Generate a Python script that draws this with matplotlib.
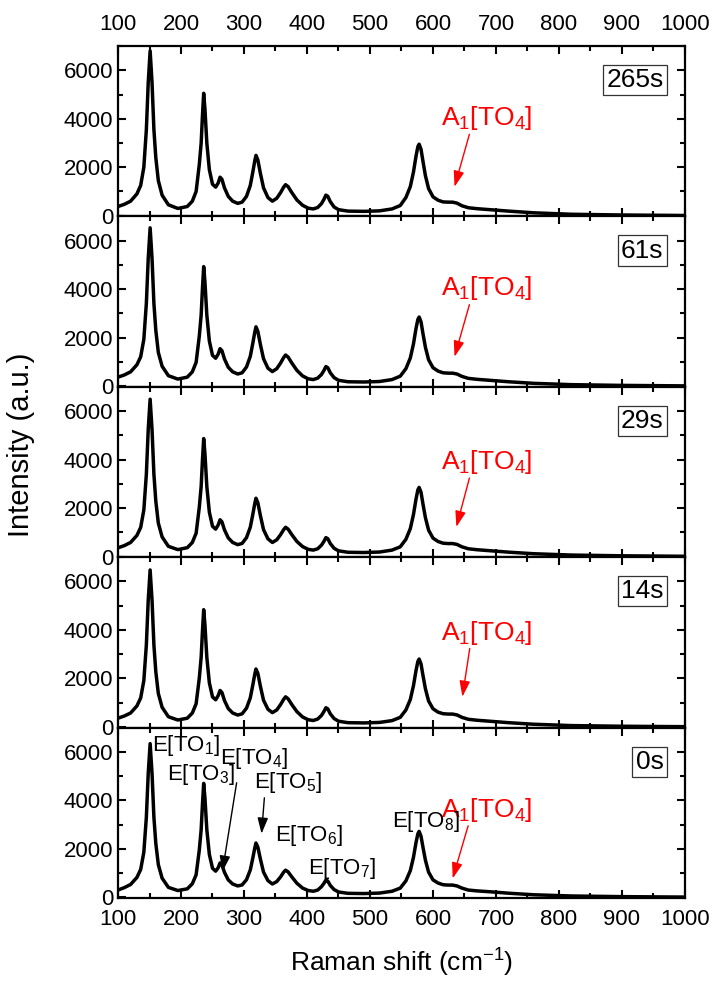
import numpy as np
import matplotlib
matplotlib.use('Agg')
import matplotlib.pyplot as plt
from matplotlib.ticker import MultipleLocator

plt.rcParams['font.family'] = ['Liberation Sans', 'DejaVu Sans']
plt.rcParams['mathtext.default'] = 'regular'

# Raman shift positions (cm-1) shared by all spectra
x_cm = [100, 110, 120, 130, 136, 141, 145, 148, 151, 154, 157, 160, 164, 170, 180, 195, 210, 218, 224, 229,
        232, 234, 236, 238, 241, 245, 250, 255, 259, 262, 265, 269, 275, 282, 290, 297, 304, 310, 314, 317,
        319, 322, 326, 331, 338, 345, 352, 358, 363, 366, 370, 376, 384, 393, 402, 410, 417, 423, 427, 430,
        433, 437, 443, 450, 465, 490, 515, 535, 548, 557, 564, 569, 573, 576, 578, 581, 584, 588, 593, 600,
        608, 616, 624, 631, 638, 646, 656, 670, 690, 720, 760, 820, 900, 1000]

# intensities
int_265s = [380, 470, 600, 900, 1250, 2000, 3550, 5500, 6800, 5500, 3550, 2400, 1450, 850, 450, 300, 380, 600, 1000, 2100,
            3000, 4100, 5050, 4400, 3000, 1900, 1300, 1180, 1350, 1590, 1500, 1150, 800, 600, 510, 560, 800, 1250, 1800, 2250,
            2490, 2300, 1750, 1150, 750, 600, 720, 950, 1180, 1280, 1200, 950, 650, 430, 310, 280, 340, 500, 680, 850,
            800, 580, 360, 250, 190, 180, 200, 280, 420, 750, 1200, 1800, 2450, 2850, 2950, 2740, 2260, 1650, 1120, 780,
            640, 570, 560, 560, 520, 410, 330, 290, 250, 190, 120, 60, 30, 10]
int_61s = [370, 460, 590, 880, 1210, 1930, 3410, 5280, 6530, 5280, 3410, 2310, 1390, 820, 430, 290, 370, 590, 980, 2050,
           2930, 4000, 4930, 4300, 2930, 1860, 1270, 1150, 1320, 1545, 1460, 1120, 780, 590, 500, 550, 790, 1230, 1770, 2210,
           2447, 2260, 1720, 1130, 740, 600, 720, 950, 1180, 1283, 1200, 950, 650, 420, 300, 270, 330, 480, 650, 807,
           760, 550, 350, 240, 180, 170, 190, 270, 410, 720, 1160, 1740, 2370, 2750, 2850, 2650, 2180, 1600, 1090, 760,
           620, 550, 535, 535, 500, 400, 320, 280, 240, 180, 115, 60, 30, 10]
int_29s = [360, 450, 580, 870, 1200, 1920, 3390, 5250, 6490, 5250, 3390, 2290, 1380, 810, 420, 285, 365, 580, 960, 2020,
           2890, 3950, 4865, 4240, 2890, 1830, 1250, 1130, 1300, 1516, 1430, 1100, 770, 580, 490, 540, 780, 1210, 1740, 2170,
           2405, 2220, 1690, 1110, 730, 580, 690, 900, 1110, 1205, 1130, 900, 620, 410, 295, 265, 320, 470, 630, 779,
           735, 535, 340, 235, 175, 165, 185, 265, 400, 710, 1150, 1730, 2360, 2750, 2850, 2650, 2180, 1600, 1090, 760,
           620, 550, 535, 535, 500, 400, 320, 280, 240, 180, 115, 60, 30, 10]
int_14s = [360, 450, 575, 865, 1195, 1910, 3380, 5240, 6475, 5240, 3380, 2280, 1380, 810, 420, 285, 360, 575, 955, 2000,
           2870, 3920, 4836, 4210, 2870, 1820, 1240, 1120, 1290, 1504, 1420, 1090, 760, 575, 490, 540, 775, 1200, 1730, 2160,
           2390, 2210, 1680, 1100, 730, 590, 700, 920, 1140, 1242, 1160, 920, 630, 410, 295, 265, 325, 475, 640, 791,
           745, 540, 345, 235, 175, 165, 185, 260, 395, 700, 1130, 1700, 2320, 2700, 2800, 2600, 2140, 1570, 1070, 750,
           610, 545, 530, 530, 495, 395, 315, 275, 235, 175, 110, 55, 28, 10]
int_0s = [300, 400, 530, 820, 1150, 1860, 3300, 5120, 6340, 5120, 3300, 2230, 1350, 790, 410, 280, 350, 560, 930, 1940,
          2790, 3810, 4700, 4100, 2790, 1770, 1200, 1080, 1220, 1420, 1340, 1030, 720, 550, 470, 510, 730, 1130, 1620, 2020,
          2240, 2070, 1580, 1040, 690, 550, 650, 840, 1040, 1120, 1050, 840, 580, 380, 280, 250, 300, 440, 580, 710,
          670, 490, 320, 220, 165, 155, 175, 250, 380, 680, 1100, 1650, 2250, 2620, 2720, 2520, 2080, 1530, 1040, 720,
          590, 520, 505, 505, 470, 380, 300, 265, 230, 170, 105, 55, 28, 10]

panel_labels = ['265s', '61s', '29s', '14s', '0s']
spectra = [int_265s, int_61s, int_29s, int_14s, int_0s]

# A1[TO4] label: text (x, y) and arrow tail/tip per panel
a1_text = [(612, 3745), (612, 3745), (612, 3600), (612, 3600), (612, 3330)]
a1_tail = [(659, 3470), (659, 3470), (659, 3350), (659, 3350), (657, 3060)]
a1_tip = [(633, 1082), (633, 1100), (636, 1110), (646, 1130), (630, 668)]

# mode labels in the 0s panel: text, left x, baseline y
mode_text = ['E[TO$_1$]', 'E[TO$_3$]', 'E[TO$_4$]', 'E[TO$_5$]', 'E[TO$_6$]', 'E[TO$_7$]', 'E[TO$_8$]']
mode_x = [154, 178, 262, 316, 350, 402, 535]
mode_y = [6020, 4840, 5520, 4500, 2310, 943, 2920]
mode_arrows = [((289, 4840), (265, 943)), ((332.7, 4220), (327.5, 2510))]

fig, axes = plt.subplots(5, 1, figsize=(7.13, 9.86), dpi=100, sharex=True)
fig.subplots_adjust(left=0.1655, right=0.9607, top=0.9533, bottom=0.0892, hspace=0)

for i, ax in enumerate(axes):
    ax.plot(x_cm, spectra[i], color='black', linewidth=2.5, solid_joinstyle='round')
    ax.set_xlim(100, 1000)
    ax.set_ylim(-30, 7000)
    ax.xaxis.set_major_locator(MultipleLocator(100))
    ax.xaxis.set_minor_locator(MultipleLocator(50))
    ax.yaxis.set_major_locator(MultipleLocator(2000))
    ax.yaxis.set_minor_locator(MultipleLocator(1000))
    ax.tick_params(which='both', direction='in', top=True, right=True, width=1.5,
                   labelsize=16, labelbottom=(i == 4), labeltop=(i == 0))
    ax.tick_params(axis='x', which='major', pad=8)
    ax.tick_params(which='major', length=6)
    ax.tick_params(which='minor', length=3.5)
    for sp in ax.spines.values():
        sp.set_linewidth(1.6)
    ax.set_yticks([0, 2000, 4000, 6000])
    ax.text(0.962, 0.80, panel_labels[i], transform=ax.transAxes, ha='right', va='center',
            fontsize=19, bbox=dict(boxstyle='square,pad=0.12', fc='white', ec='#333333', lw=0.9))
    ax.text(a1_text[i][0], a1_text[i][1], 'A$_1$[TO$_4$]', color='red', fontsize=19,
            ha='left', va='baseline')
    ax.annotate('', xy=a1_tip[i], xytext=a1_tail[i],
                arrowprops=dict(arrowstyle='-|>,head_length=0.6,head_width=0.2', color='red',
                                lw=1.0, mutation_scale=16))

ax = axes[4]
for t, mx, my in zip(mode_text, mode_x, mode_y):
    ax.text(mx, my, t, fontsize=16, ha='left', va='baseline')
for tail, tip in mode_arrows:
    ax.annotate('', xy=tip, xytext=tail,
                arrowprops=dict(arrowstyle='-|>,head_length=0.6,head_width=0.2', color='black',
                                lw=1.0, mutation_scale=16))

ax.set_xlabel('Raman shift (cm$^{-1}$)', fontsize=19, labelpad=12)
fig.text(0.03, 0.549, 'Intensity (a.u.)', rotation=90, fontsize=21, ha='center', va='center')

fig.savefig('out.png', dpi=100)
